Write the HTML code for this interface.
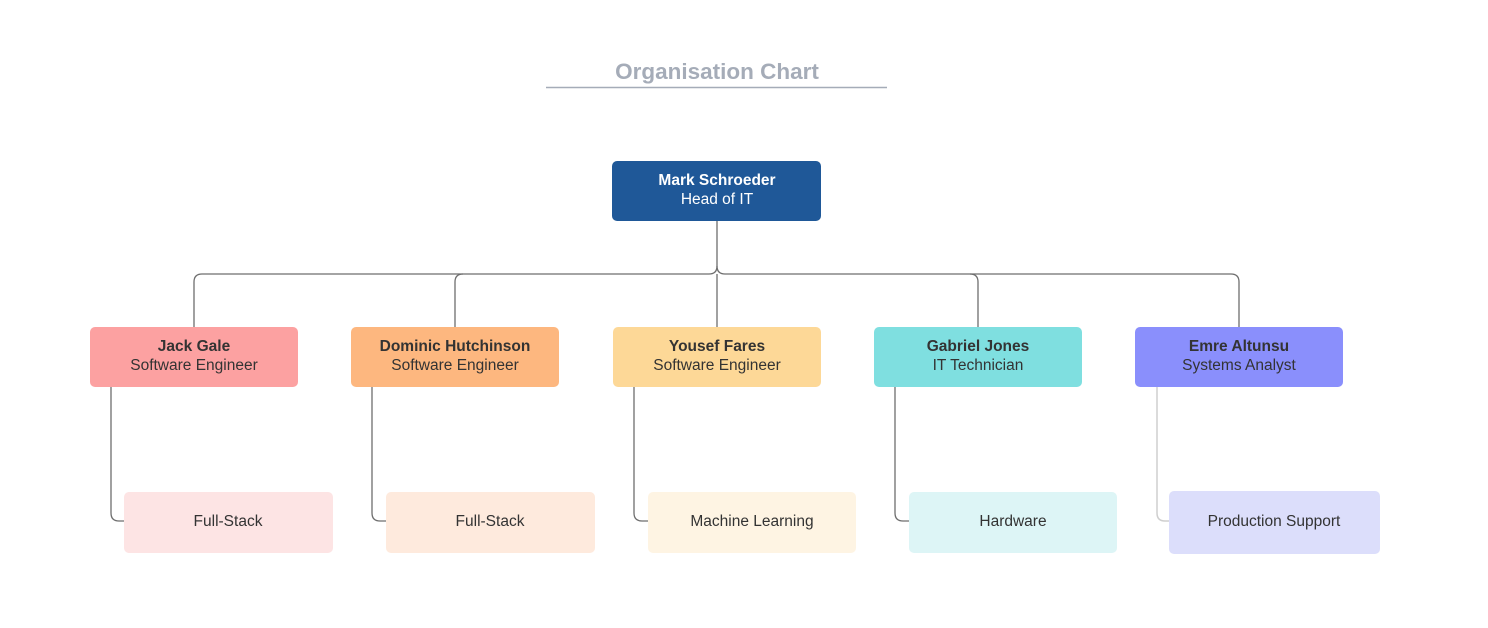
<!DOCTYPE html>
<html><head><meta charset="utf-8"><style>
html,body{margin:0;padding:0;background:#fff;}
svg{display:block;font-family:"Liberation Sans",Arial,sans-serif;}
</style></head><body>
<svg width="1488" height="628" viewBox="0 0 1488 628" xmlns="http://www.w3.org/2000/svg">
<rect width="1488" height="628" fill="#fff"/>
<text x="717" y="79" text-anchor="middle" font-size="22.5" font-weight="bold" fill="#a5acb8">Organisation Chart</text>
<line x1="546" y1="87.5" x2="887" y2="87.5" stroke="#a5acb8" stroke-width="1.5"/>
<g fill="none" stroke="#6e6e6e" stroke-width="1.3">
<path d="M717 221 V266 Q717 274 709 274 H202 Q194 274 194 282 V327"/>
<path d="M717 266 Q717 274 725 274 H1231 Q1239 274 1239 282 V327"/>
<path d="M463 274 Q455 274 455 282 V327"/>
<path d="M970 274 Q978 274 978 282 V327"/>
<path d="M717 274 V327"/>
<path d="M111 387 V513 Q111 521 119 521 H124"/>
<path d="M372 387 V513 Q372 521 380 521 H386"/>
<path d="M634 387 V513 Q634 521 642 521 H648"/>
<path d="M895 387 V513 Q895 521 903 521 H909"/>
</g>
<path d="M1157 387 V513 Q1157 521 1165 521 H1169" fill="none" stroke="#cfcfcf" stroke-width="1.5"/>
<rect x="612" y="161" width="209" height="60" rx="5" fill="#1f5898"/>
<text x="717" y="185" text-anchor="middle" font-size="15.5" font-weight="bold" fill="#fff">Mark Schroeder</text>
<text x="717" y="204" text-anchor="middle" font-size="15.5" fill="#fff">Head of IT</text>
<g font-size="15.5" text-anchor="middle" fill="#333">
<rect x="90" y="327" width="208" height="60" rx="5" fill="#fca1a1"/>
<text x="194" y="351" font-weight="bold">Jack Gale</text><text x="194" y="370">Software Engineer</text>
<rect x="351" y="327" width="208" height="60" rx="5" fill="#fdb77f"/>
<text x="455" y="351" font-weight="bold">Dominic Hutchinson</text><text x="455" y="370">Software Engineer</text>
<rect x="613" y="327" width="208" height="60" rx="5" fill="#fdd897"/>
<text x="717" y="351" font-weight="bold">Yousef Fares</text><text x="717" y="370">Software Engineer</text>
<rect x="874" y="327" width="208" height="60" rx="5" fill="#7fdfe0"/>
<text x="978" y="351" font-weight="bold">Gabriel Jones</text><text x="978" y="370">IT Technician</text>
<rect x="1135" y="327" width="208" height="60" rx="5" fill="#8a8ffc"/>
<text x="1239" y="351" font-weight="bold">Emre Altunsu</text><text x="1239" y="370">Systems Analyst</text>
<rect x="124" y="492" width="209" height="61" rx="5" fill="#fde4e4"/>
<text x="228" y="526">Full-Stack</text>
<rect x="386" y="492" width="209" height="61" rx="5" fill="#feeadd"/>
<text x="490" y="526">Full-Stack</text>
<rect x="648" y="492" width="208" height="61" rx="5" fill="#fef4e3"/>
<text x="752" y="526">Machine Learning</text>
<rect x="909" y="492" width="208" height="61" rx="5" fill="#ddf5f6"/>
<text x="1013" y="526">Hardware</text>
<rect x="1169" y="491" width="211" height="63" rx="5" fill="#dcdefb"/>
<text x="1274" y="526">Production Support</text>
</g>
</svg>
</body></html>
